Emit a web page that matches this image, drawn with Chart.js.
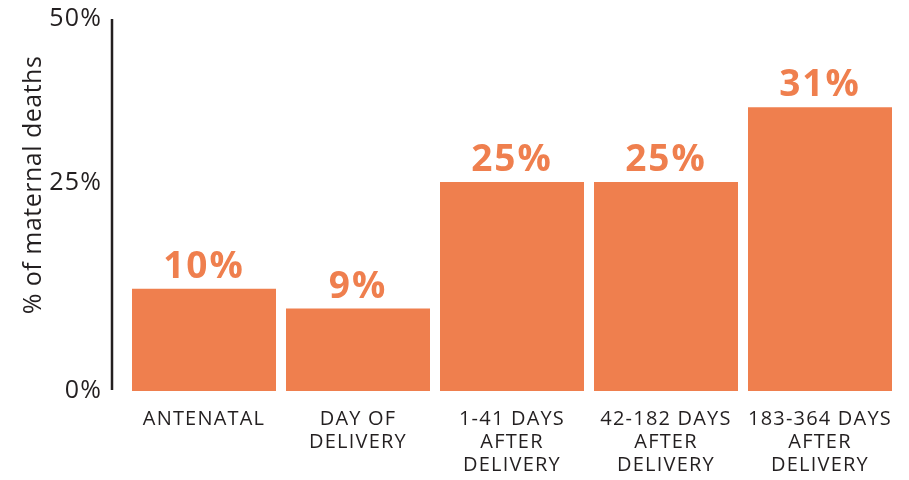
<!DOCTYPE html>
<html>
<head>
<meta charset="utf-8">
<script src="https://cdn.jsdelivr.net/npm/chart.js@4"></script>
<style>
  html, body { margin: 0; padding: 0; background: #ffffff; }
  #wrap { width: 909px; height: 480px; position: relative; }
</style>
</head>
<body>
<div id="wrap"><canvas id="chart"></canvas></div>
<script>
// ─────────────────────────────────────────────
// Data
// ─────────────────────────────────────────────
const categories = [
  ['ANTENATAL'],
  ['DAY OF', 'DELIVERY'],
  ['1-41 DAYS', 'AFTER', 'DELIVERY'],
  ['42-182 DAYS', 'AFTER', 'DELIVERY'],
  ['183-364 DAYS', 'AFTER', 'DELIVERY'],
];
// bar heights as drawn (read against the 0% / 25% ticks)
const barValues  = [12.3, 9.9, 25.1, 25.1, 34.1];
// printed value labels above the bars
const valueLabels = ['10%', '9%', '25%', '25%', '31%'];
const tickValues  = [0, 25, 44.7];
const tickLabels  = ['0%', '25%', '50%'];
const axisTitle   = '% of maternal deaths';

const ORANGE = '#EF7F4E';
const INK    = '#231F20';
const FONT   = "'Open Sans', 'Noto Sans', sans-serif";

// ─────────────────────────────────────────────
// Extras: value labels, axis line, axis title
// ─────────────────────────────────────────────
const extras = {
  id: 'extras',
  beforeDraw(chart) {
    // slightly wider tracking for the axis text, like the original
    chart.ctx.letterSpacing = '1.2px';
  },
  afterDatasetsDraw(chart) {
    const { ctx, chartArea } = chart;
    const meta = chart.getDatasetMeta(0);
    ctx.save();
    ctx.fillStyle = ORANGE;
    ctx.font = `bold 37px ${FONT}`;
    ctx.letterSpacing = '2px';
    ctx.textAlign = 'center';
    ctx.textBaseline = 'alphabetic';
    meta.data.forEach((bar, i) => {
      ctx.fillText(valueLabels[i], bar.x, bar.y - 11);
    });

    // vertical axis line, set off to the left of the bars
    ctx.strokeStyle = INK;
    ctx.lineWidth = 2.5;
    ctx.beginPath();
    ctx.moveTo(112, chartArea.top);
    ctx.lineTo(112, chartArea.bottom - 1);
    ctx.stroke();

    // axis title
    ctx.fillStyle = INK;
    ctx.font = `25px ${FONT}`;
    ctx.letterSpacing = '0.5px';
    ctx.translate(34, 185);
    ctx.rotate(-Math.PI / 2);
    ctx.textBaseline = 'middle';
    ctx.fillText(axisTitle, 0, 0);
    ctx.restore();
  },
};

// ─────────────────────────────────────────────
// Chart
// ─────────────────────────────────────────────
new Chart(document.getElementById('chart'), {
  type: 'bar',
  data: {
    labels: categories,
    datasets: [{
      data: barValues,
      backgroundColor: ORANGE,
      borderWidth: 0,
      categoryPercentage: 1,
      barPercentage: 144 / 154,
    }],
  },
  options: {
    responsive: true,
    maintainAspectRatio: false,
    animation: false,
    events: [],
    layout: { padding: { top: 19, right: 12, left: 0, bottom: 0 } },
    plugins: { legend: { display: false }, tooltip: { enabled: false } },
    scales: {
      x: {
        grid: { display: false, drawTicks: false },
        border: { display: false },
        ticks: {
          color: INK,
          font: { family: FONT, size: 20, lineHeight: 1.15 },
          padding: 17,
          maxRotation: 0,
          autoSkip: false,
        },
        afterFit(scale) { scale.height = 89; },
      },
      y: {
        min: 0,
        max: 44.7,
        grid: { display: false, drawTicks: false },
        border: { display: false },
        afterBuildTicks(scale) {
          scale.ticks = tickValues.map((v) => ({ value: v }));
        },
        ticks: {
          color: INK,
          font: { family: FONT, size: 25 },
          padding: 25,
          callback: (v) => tickLabels[tickValues.indexOf(v)],
        },
        afterFit(scale) {
          scale.width = 127;
          scale.paddingTop = 0;
          scale.paddingBottom = 0;
        },
      },
    },
  },
  plugins: [extras],
});
</script>
</body>
</html>
